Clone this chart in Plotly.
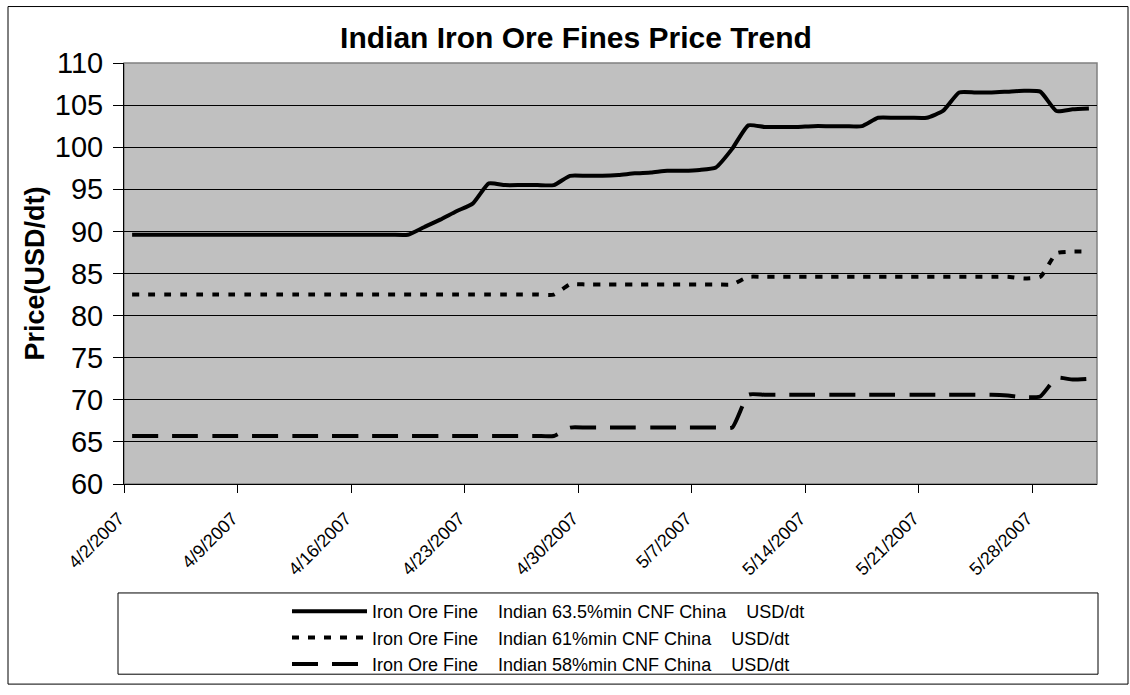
import pandas as pd
import plotly.graph_objects as go

dates = pd.date_range("2007-04-02", "2007-05-31", freq="D")

fe635 = [89.6] * 18 + [90.5, 91.4, 92.4, 93.3, 95.7, 95.5, 95.5, 95.5, 95.5,
         96.6, 96.6, 96.6, 96.7, 96.9, 97.0, 97.2, 97.2, 97.3, 97.6, 99.8,
         102.6, 102.4, 102.4, 102.4, 102.5, 102.5, 102.5, 102.5,
         103.5, 103.5, 103.5, 103.5, 104.3, 106.5, 106.5, 106.5, 106.6, 106.7,
         106.6, 104.3, 104.5, 104.6]
fe61 = [82.5] * 27 + [83.7] * 11 + [84.6] * 17 + [84.4, 84.6, 87.4, 87.6, 87.6]
fe58 = [65.7] * 27 + [66.7] * 11 + [70.6] * 16 + [70.5, 70.3, 70.4, 72.6, 72.4, 72.5]

SP = "\u00a0\u00a0\u00a0 "
names = [
    "Iron Ore Fine" + SP + "Indian 63.5%min CNF China" + SP + "USD/dt",
    "Iron Ore Fine" + SP + "Indian 61%min CNF China" + SP + "USD/dt",
    "Iron Ore Fine" + SP + "Indian 58%min CNF China" + SP + "USD/dt",
]
series = [fe635, fe61, fe58]
dashes = ["solid", "7px,9px", "26px,14px"]

FONT = "Arial, Liberation Sans, sans-serif"

fig = go.Figure()
for nm, vals, ds in zip(names, series, dashes):
    fig.add_trace(go.Scatter(
        x=dates, y=vals, name=nm, mode="lines",
        xperiod=86400000, xperiodalignment="middle",
        line=dict(color="black", width=4, dash=ds, shape="spline", smoothing=0.5),
    ))

W, H = 1130, 695
L, R, T, B = 124, 1097, 63, 488
pw, ph = R - L, B - T


def px(x):
    return (x - L) / pw


def py(y):
    return (B - y) / ph


fig.update_layout(
    width=W, height=H,
    margin=dict(l=L, r=W - R, t=T, b=H - B),
    paper_bgcolor="white", plot_bgcolor="#C0C0C0",
    font=dict(family=FONT, color="black"),
    title=dict(text="<b>Indian Iron Ore Fines Price Trend</b>", font=dict(size=30, family=FONT),
               x=576 / W, xanchor="center", xref="container",
               y=1 - 37 / H, yanchor="middle", yref="container"),
    showlegend=True,
    legend=dict(x=px(287), xanchor="left", y=py(598), yanchor="top",
                bgcolor="rgba(0,0,0,0)", borderwidth=0,
                font=dict(size=18, family=FONT), itemwidth=75),
    xaxis=dict(range=["2007-04-02", "2007-06-01"], tick0="2007-04-02", dtick=7 * 86400000,
               tickformat="%-m/%-d/%Y", tickangle=-45, tickfont=dict(size=18),
               ticks="outside", ticklen=8, tickcolor="black", showgrid=False,
               ticklabelstandoff=8, ticklabelshift=-5,
               showline=True, linecolor="black", linewidth=1, zeroline=False),
    yaxis=dict(range=[60, 110], dtick=5, tickfont=dict(size=29),
               ticks="outside", ticklen=10, tickcolor="black", ticklabelstandoff=4,
               showgrid=True, gridcolor="black", gridwidth=1,
               showline=True, linecolor="black", linewidth=1, zeroline=False,
               title=dict(text="<b>Price(USD/dt)</b>", font=dict(size=27), standoff=2)),
    shapes=[
        dict(type="rect", xref="paper", yref="paper", x0=0, x1=1, y0=0, y1=1,
             line=dict(color="#808080", width=1.5), layer="below"),
        dict(type="rect", xref="paper", yref="paper", x0=px(118), x1=px(1098),
             y0=py(680), y1=py(598), line=dict(color="black", width=1)),
        dict(type="rect", xref="paper", yref="paper", x0=px(8), x1=px(1128),
             y0=py(690), y1=py(6), line=dict(color="black", width=1)),
    ],
)

fig.write_html(
    "out.html",
    config={"displayModeBar": False},
    post_script=(
        "document.documentElement.style.margin='0px';"
        "document.body.style.margin='0px';"
        "document.body.style.padding='0px';"
        "document.documentElement.style.overflow='hidden';"
        "document.body.style.overflow='hidden';"
    ),
)
